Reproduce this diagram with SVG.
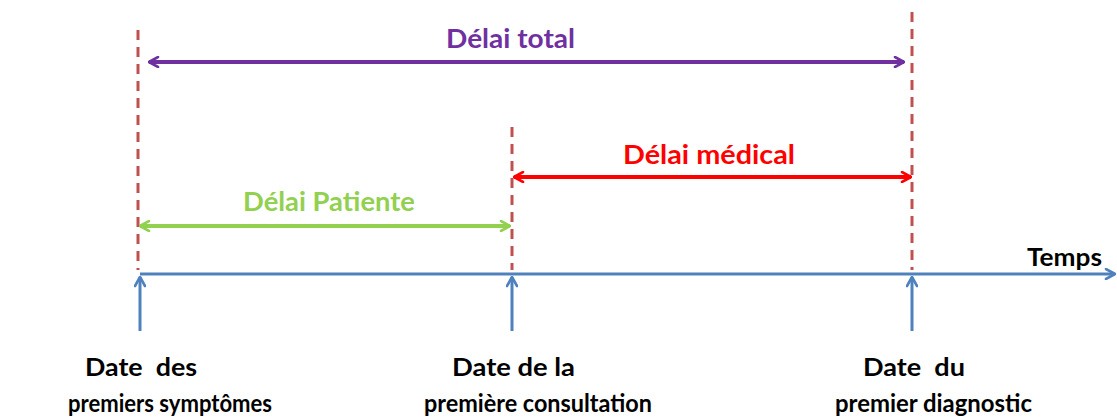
<svg xmlns="http://www.w3.org/2000/svg" width="1117" height="419" viewBox="0 0 1117 419">
<style>
.dash{stroke:#C0504D;stroke-width:3;stroke-dasharray:10 7;fill:none}
.lbl{font-family:Lato,"Liberation Sans",Arial,sans-serif;font-weight:bold;font-size:24px}
.big{font-size:26px}
.blk{fill:#000}
</style>
<defs>
<marker id="mp" viewBox="0 0 12 12" refX="11" refY="6" markerWidth="12" markerHeight="12" markerUnits="userSpaceOnUse" orient="auto-start-reverse"><path d="M2,1 L11,6 L2,11" fill="none" stroke="#7030A0" stroke-width="2.6" stroke-linecap="round" stroke-linejoin="round"/></marker>
<marker id="mr" viewBox="0 0 12 12" refX="11" refY="6" markerWidth="12" markerHeight="12" markerUnits="userSpaceOnUse" orient="auto-start-reverse"><path d="M2,1 L11,6 L2,11" fill="none" stroke="#FF0000" stroke-width="2.6" stroke-linecap="round" stroke-linejoin="round"/></marker>
<marker id="mg" viewBox="0 0 12 12" refX="11" refY="6" markerWidth="12" markerHeight="12" markerUnits="userSpaceOnUse" orient="auto-start-reverse"><path d="M2,1 L11,6 L2,11" fill="none" stroke="#92D050" stroke-width="2.6" stroke-linecap="round" stroke-linejoin="round"/></marker>
<marker id="mb" viewBox="0 0 12 12" refX="11" refY="6" markerWidth="12" markerHeight="12" markerUnits="userSpaceOnUse" orient="auto-start-reverse"><path d="M2,1 L11,6 L2,11" fill="none" stroke="#4F81BD" stroke-width="2.6" stroke-linecap="round" stroke-linejoin="round"/></marker>
</defs>
<rect width="1117" height="419" fill="#fff"/>
<g id="guides">
<line class="dash" x1="138" y1="30" x2="138" y2="270"/>
<line class="dash" x1="512" y1="127" x2="512" y2="270"/>
<line class="dash" x1="912" y1="12" x2="912" y2="270"/>
</g>
<g id="connectors">
<line x1="149" y1="62" x2="904" y2="62" stroke="#7030A0" stroke-width="4" marker-start="url(#mp)" marker-end="url(#mp)"/>
<line x1="514" y1="177" x2="911" y2="177" stroke="#FF0000" stroke-width="4" marker-start="url(#mr)" marker-end="url(#mr)"/>
<line x1="140" y1="226" x2="510" y2="226" stroke="#92D050" stroke-width="4" marker-start="url(#mg)" marker-end="url(#mg)"/>
<line x1="140" y1="274" x2="1115" y2="274" stroke="#4F81BD" stroke-width="3" marker-end="url(#mb)"/>
<line x1="140" y1="331" x2="140" y2="277" stroke="#4F81BD" stroke-width="3" marker-end="url(#mb)"/>
<line x1="512" y1="331" x2="512" y2="277" stroke="#4F81BD" stroke-width="3" marker-end="url(#mb)"/>
<line x1="912" y1="331" x2="912" y2="277" stroke="#4F81BD" stroke-width="3" marker-end="url(#mb)"/>
</g>
<g id="delai-total"><text class="lbl big" x="446" y="48" fill="#7030A0" textLength="129" lengthAdjust="spacingAndGlyphs">Délai total</text></g>
<g id="delai-medical"><text class="lbl big" x="623" y="164" fill="#FF0000" textLength="172" lengthAdjust="spacingAndGlyphs">Délai médical</text></g>
<g id="delai-patiente"><text class="lbl big" x="243" y="211" fill="#92D050" textLength="172" lengthAdjust="spacingAndGlyphs">Délai Patiente</text></g>
<g id="temps"><text class="lbl blk" x="1027" y="266" textLength="75" lengthAdjust="spacingAndGlyphs">Temps</text></g>
<g id="date-symptomes"><text class="lbl blk" x="85" y="376" xml:space="preserve" textLength="112" lengthAdjust="spacingAndGlyphs">Date  des</text><text class="lbl blk" x="68" y="412" textLength="204" lengthAdjust="spacingAndGlyphs">premiers symptômes</text></g>
<g id="date-consultation"><text class="lbl blk" x="452" y="376" textLength="123" lengthAdjust="spacingAndGlyphs">Date de la</text><text class="lbl blk" x="424" y="412" textLength="228" lengthAdjust="spacingAndGlyphs">première consultation</text></g>
<g id="date-diagnostic"><text class="lbl blk" x="863" y="376" xml:space="preserve" textLength="102" lengthAdjust="spacingAndGlyphs">Date  du</text><text class="lbl blk" x="835" y="412" textLength="197" lengthAdjust="spacingAndGlyphs">premier diagnostic</text></g>
</svg>
